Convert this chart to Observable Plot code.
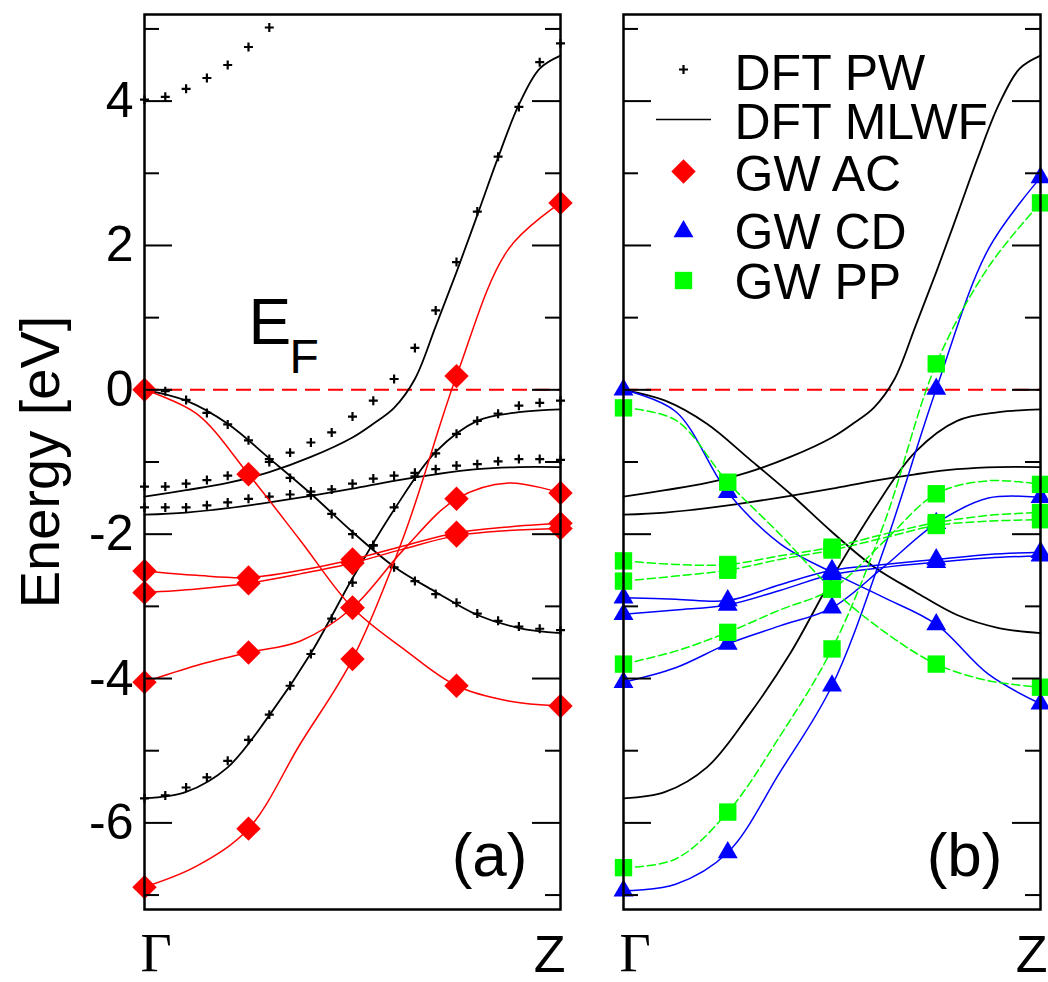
<!DOCTYPE html>
<html><head><meta charset="utf-8">
<script src="https://cdn.jsdelivr.net/npm/d3@7"></script>
<script src="https://cdn.jsdelivr.net/npm/@observablehq/plot@0.6"></script>
<style>
html,body{margin:0;padding:0;background:#fff;}
#wrap{position:relative;width:1048px;height:982px;overflow:hidden;}
#pa{position:absolute;left:0;top:0;width:580px;height:982px;}
#pb{position:absolute;left:580px;top:0;width:468px;height:982px;}
svg{overflow:visible;}
</style></head>
<body><div id="wrap"><div id="pa"></div><div id="pb"></div></div>
<script>
// ---------- DATA ----------
const kLabels = ["Γ", "Z"];
const kLabelPos = [0, 1];
const yMajor = [-6, -4, -2, 0, 2, 4];
const yMinor = [-7, -5, -3, -1, 1, 3, 5];

// DFT plane-wave (crosses), 21 k-points
const kPW = [0,0.05,0.1,0.15,0.2,0.25,0.3,0.35,0.4,0.45,0.5,0.55,0.6,0.65,0.7,0.75,0.8,0.85,0.9,0.95,1];
const pwBand1 = [0,-0.02,-0.14,-0.32,-0.48,-0.70,-0.96,-1.22,-1.46,-1.72,-2.0,-2.16,-2.46,-2.65,-2.83,-2.95,-3.1,-3.2,-3.28,-3.31,-3.33];
const pwBand2 = [-1.34,-1.34,-1.30,-1.25,-1.19,-1.1,-1.0,-0.87,-0.73,-0.59,-0.37,-0.15,0.15,0.58,1.1,1.77,2.47,3.23,3.92,4.54,4.8];
const pwBand3 = [-1.63,-1.63,-1.63,-1.6,-1.56,-1.51,-1.48,-1.45,-1.41,-1.38,-1.3,-1.23,-1.19,-1.15,-1.10,-1.05,-1.03,-0.99,-0.96,-0.96,-0.97];
const pwBand4 = [-5.66,-5.62,-5.51,-5.37,-5.14,-4.85,-4.5,-4.1,-3.66,-3.17,-2.67,-2.15,-1.63,-1.2,-0.88,-0.61,-0.43,-0.33,-0.22,-0.18,-0.15];
const pwBand5 = [4.02,4.06,4.17,4.32,4.5,4.75,5.02];

// DFT MLWF (black lines)
const kMl = [0,0.1,0.2,0.3,0.4,0.5,0.6,0.7,0.8,0.9,1];
const mlBand1 = [0,-0.15,-0.47,-0.95,-1.44,-1.97,-2.45,-2.8,-3.12,-3.3,-3.37];
const mlBand3 = [-1.73,-1.70,-1.64,-1.56,-1.47,-1.37,-1.26,-1.17,-1.1,-1.07,-1.07];
const mlBand4 = [-5.66,-5.57,-5.23,-4.51,-3.65,-2.61,-1.66,-0.86,-0.43,-0.31,-0.27];
const kMl2 = [0,0.1,0.2,0.3,0.4,0.5,0.55,0.6,0.65,0.7,0.75,0.8,0.85,0.9,0.95,1];
const mlBand2 = [-1.48,-1.39,-1.29,-1.14,-0.93,-0.66,-0.47,-0.25,0.15,0.88,1.63,2.42,3.22,3.95,4.45,4.63];

// GW quasiparticle points (markers)
const kGW = [0,0.25,0.5,0.75,1];
const acA = [0,-1.17,-3.02,-4.1,-4.38];
const acB = [-6.89,-6.08,-3.73,0.19,2.59];
const acC = [-4.05,-3.64,-3.02,-1.51,-1.43];
const acD = [-2.51,-2.6,-2.35,-1.98,-1.85];
const acE = [-2.81,-2.68,-2.4,-2.02,-1.92];
const cdA = [0,-1.42,-2.53,-3.25,-4.35];
const cdB = [-6.94,-6.41,-4.1,0.01,2.94];
const cdC = [-4.05,-3.52,-3.02,-1.85,-1.49];
const cdD = [-2.88,-2.92,-2.5,-2.35,-2.25];
const cdE = [-3.11,-2.98,-2.56,-2.39,-2.3];
const ppA = [-0.25,-1.28,-2.76,-3.8,-4.12];
const ppB = [-6.62,-5.85,-3.59,0.36,2.59];
const ppC = [-3.8,-3.36,-2.76,-1.44,-1.31];
const ppD = [-2.37,-2.42,-2.18,-1.84,-1.7];
const ppE = [-2.65,-2.5,-2.22,-1.88,-1.8];

// GW interpolated bands (lines)
const kL = [0,0.125,0.25,0.375,0.5,0.625,0.75,0.875,1];
const acLineA = [0,-0.33,-1.17,-2.09,-3.02,-3.6,-4.1,-4.31,-4.38];
const acLineB = [-6.89,-6.6,-6.08,-4.9,-3.73,-2.0,0.19,1.95,2.59];
const acLineC = [-4.05,-3.82,-3.64,-3.48,-3.02,-2.2,-1.51,-1.29,-1.43];
const acLineD = [-2.51,-2.57,-2.6,-2.5,-2.35,-2.16,-1.98,-1.9,-1.85];
const acLineE = [-2.81,-2.76,-2.68,-2.55,-2.4,-2.2,-2.02,-1.95,-1.92];
const cdLineA = [0,-0.3,-1.42,-2.13,-2.53,-2.88,-3.25,-3.94,-4.35];
const cdLineB = [-6.94,-6.85,-6.41,-5.3,-4.1,-2.2,0.01,1.95,2.94];
const cdLineC = [-4.05,-3.85,-3.52,-3.27,-3.02,-2.45,-1.85,-1.5,-1.49];
const cdLineD = [-2.88,-2.9,-2.92,-2.7,-2.5,-2.42,-2.35,-2.28,-2.25];
const cdLineE = [-3.11,-3.05,-2.98,-2.78,-2.56,-2.46,-2.39,-2.33,-2.3];
const ppLineA = [-0.25,-0.42,-1.28,-2.0,-2.76,-3.35,-3.8,-4.03,-4.12];
const ppLineB = [-6.62,-6.5,-5.85,-4.8,-3.59,-1.85,0.36,1.7,2.59];
const ppLineC = [-3.8,-3.62,-3.36,-3.05,-2.76,-2.1,-1.44,-1.26,-1.31];
const ppLineD = [-2.37,-2.42,-2.42,-2.3,-2.18,-2.0,-1.84,-1.74,-1.7];
const ppLineE = [-2.65,-2.58,-2.5,-2.35,-2.22,-2.05,-1.88,-1.82,-1.8];

const legendLabels = ["DFT PW", "DFT MLWF", "GW AC", "GW CD", "GW PP"];
const panelLabels = ["(a)", "(b)"];

// ---------- helpers ----------
const rows = (k, vals, band) => vals.map((E, i) => ({k: k[i], E, band}));
const many = (k, list, prefix) => list.flatMap((v, j) => rows(k, v, prefix + j));

const mlRows = [...many(kMl, [mlBand1, mlBand3, mlBand4], "m"), ...rows(kMl2, mlBand2, "m9")];
const pwRows = [...many(kPW, [pwBand1, pwBand2, pwBand3, pwBand4], "p"), ...rows(kPW, pwBand5, "p9")];
const acPts = many(kGW, [acA, acB, acC, acD, acE], "a");
const cdPts = many(kGW, [cdA, cdB, cdC, cdD, cdE], "c");
const ppPts = many(kGW, [ppA, ppB, ppC, ppD, ppE], "q");
const acLines = many(kL, [acLineA, acLineB, acLineC, acLineD, acLineE], "a");
const cdLines = many(kL, [cdLineA, cdLineB, cdLineC, cdLineD, cdLineE], "c");
const ppLines = many(kL, [ppLineA, ppLineB, ppLineC, ppLineD, ppLineE], "q");

// ---------- styles ----------
const SANS = "Liberation Sans, Arial, Helvetica, sans-serif";
const SERIF = "Liberation Serif, Times New Roman, serif";
const RED = "#ff0000", BLUE = "#0000ff", GREEN = "#00ff00";
const H = 982, MT = 14, MB = 73;
const MAJ = 28, MIN = 15;
const PLUS = {symbol: "plus", r: 3, stroke: "black", strokeWidth: 2.2, fill: "none"};

function axesMarks(innerW) {
  return [
    Plot.tickY(yMajor, {y: d => d, stroke: "black", strokeWidth: 2, insetRight: innerW - MAJ}),
    Plot.tickY(yMinor, {y: d => d, stroke: "black", strokeWidth: 2, insetRight: innerW - MIN}),
    Plot.tickY(yMajor, {y: d => d, stroke: "black", strokeWidth: 2, insetLeft: innerW - MAJ}),
    Plot.tickY(yMinor, {y: d => d, stroke: "black", strokeWidth: 2, insetLeft: innerW - MIN}),
    Plot.frame({stroke: "black", strokeWidth: 2.5})
  ];
}
function kMarks(zdx) {
  return [
    Plot.text([kLabelPos[0]], {x: d => d, text: () => kLabels[0], frameAnchor: "bottom", dy: 61, dx: -4,
      textAnchor: "start", lineAnchor: "bottom", fontSize: 54, fontFamily: SERIF, fill: "black"}),
    Plot.text([kLabelPos[1]], {x: d => d, text: () => kLabels[1], frameAnchor: "bottom", dy: 62, dx: zdx,
      textAnchor: "end", lineAnchor: "bottom", fontSize: 52, fontFamily: SANS, fill: "black"})
  ];
}
const mlLine = Plot.line(mlRows, {x: "k", y: "E", z: "band", stroke: "black", strokeWidth: 1.8, curve: "catmull-rom"});
const efRule = Plot.ruleY([0], {stroke: RED, strokeWidth: 2, strokeDasharray: "15,8"});

// ---------- panel (a) ----------
const WA = 580, MLa = 144, MRa = 20;
const innerA = WA - MLa - MRa;
const panelA = Plot.plot({
  width: WA, height: H, marginLeft: MLa, marginRight: MRa, marginTop: MT, marginBottom: MB,
  x: {domain: [0, 1], axis: null},
  y: {domain: [-7.2, 5.2], axis: null},
  style: {fontFamily: SANS, background: "transparent", overflow: "visible"},
  marks: [
    efRule,
    mlLine,
    Plot.dot(pwRows, {x: "k", y: "E", ...PLUS}),
    Plot.line(acLines, {x: "k", y: "E", z: "band", stroke: RED, strokeWidth: 1.5, curve: "catmull-rom"}),
    Plot.dot(acPts, {x: "k", y: "E", symbol: "diamond2", r: 11, fill: RED, stroke: "none"}),
    ...axesMarks(innerA),
    Plot.text(yMajor, {y: d => d, text: d => `${d}`, frameAnchor: "left", textAnchor: "end", dx: -11,
      lineAnchor: "middle", fontSize: 50, fill: "black"}),
    Plot.text(["Energy [eV]"], {text: d => d, frameAnchor: "left", rotate: -90, dx: -86, lineAnchor: "bottom",
      textAnchor: "middle", fontSize: 56, fill: "black"}),
    ...kMarks(5),
    Plot.text(["E"], {text: d => d, frameAnchor: "top-left", dx: 104, dy: 329, textAnchor: "start",
      lineAnchor: "bottom", fontSize: 64, fill: "black"}),
    Plot.text(["F"], {text: d => d, frameAnchor: "top-left", dx: 145, dy: 358, textAnchor: "start",
      lineAnchor: "bottom", fontSize: 48, fill: "black"}),
    Plot.text([panelLabels[0]], {text: d => d, frameAnchor: "bottom-right", dx: -33, dy: -34,
      textAnchor: "end", lineAnchor: "bottom", fontSize: 62, fill: "black"})
  ]
});
document.getElementById("pa").appendChild(panelA);

// ---------- panel (b) ----------
const WB = 468, MLb = 43, MRb = 8;
const innerB = WB - MLb - MRb;
const hLine = {draw(ctx) { ctx.moveTo(-27.5, 0); ctx.lineTo(27.5, 0); }};
const legSym = [
  PLUS,
  {symbol: hLine, r: 5, stroke: "black", strokeWidth: 1.6, fill: "none"},
  {symbol: "diamond2", r: 11, fill: RED, stroke: "none"},
  {symbol: "triangle", r: 7.4, fill: BLUE, stroke: "none"},
  {symbol: "square", r: 9.8, fill: GREEN, stroke: "none"}
];
const legBase = [75, 124, 176, 234, 284];   // layout: text baselines below frame top
const legSymDy = [55, 105, 157, 217, 266];  // layout: symbol centres below frame top
const legendMarks = legendLabels.flatMap((lab, i) => [
  Plot.dot([lab], {frameAnchor: "top-left", dx: 60, dy: legSymDy[i], ...legSym[i]}),
  Plot.text([lab], {text: d => d, frameAnchor: "top-left", dx: 111, dy: legBase[i], textAnchor: "start",
    lineAnchor: "bottom", fontSize: 50, fill: "black"})
]);

const panelB = Plot.plot({
  width: WB, height: H, marginLeft: MLb, marginRight: MRb, marginTop: MT, marginBottom: MB,
  x: {domain: [0, 1], axis: null},
  y: {domain: [-7.2, 5.2], axis: null},
  style: {fontFamily: SANS, background: "transparent", overflow: "visible"},
  marks: [
    efRule,
    mlLine,
    Plot.line(cdLines, {x: "k", y: "E", z: "band", stroke: BLUE, strokeWidth: 1.5, curve: "catmull-rom"}),
    Plot.line(ppLines, {x: "k", y: "E", z: "band", stroke: GREEN, strokeWidth: 1.5, strokeDasharray: "8,4", curve: "catmull-rom"}),
    Plot.dot(cdPts, {x: "k", y: "E", symbol: "triangle", r: 7.4, fill: BLUE, stroke: "none"}),
    Plot.dot(ppPts, {x: "k", y: "E", symbol: "square", r: 9.8, fill: GREEN, stroke: "none"}),
    ...axesMarks(innerB),
    ...kMarks(7),
    ...legendMarks,
    Plot.text([panelLabels[1]], {text: d => d, frameAnchor: "bottom-right", dx: -38, dy: -34,
      textAnchor: "end", lineAnchor: "bottom", fontSize: 62, fill: "black"})
  ]
});
document.getElementById("pb").appendChild(panelB);
</script>
</body></html>
